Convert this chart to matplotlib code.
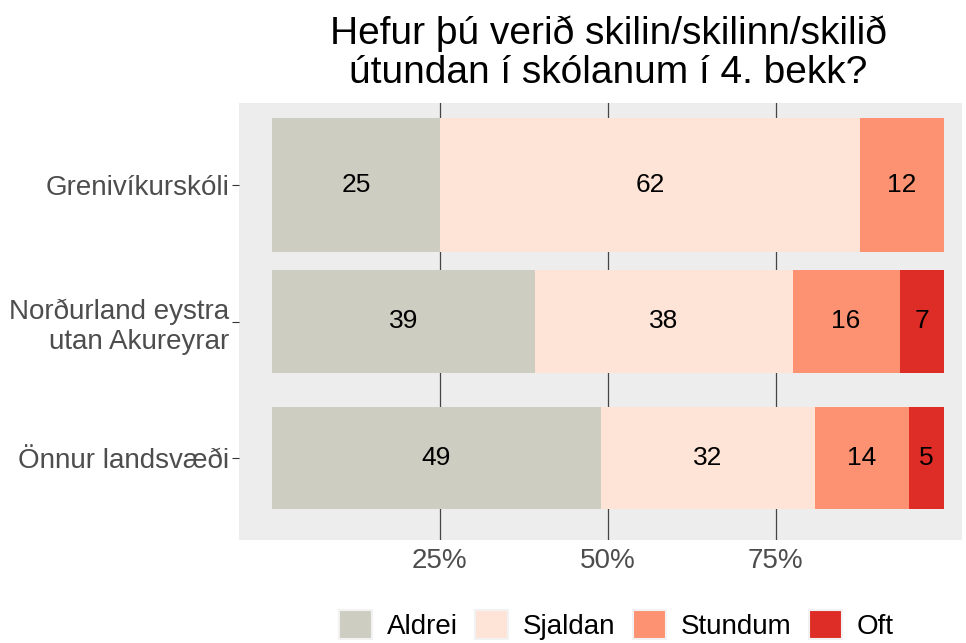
import matplotlib.pyplot as plt
from matplotlib.patches import Patch

plt.rcParams['font.family'] = ['Liberation Sans', 'DejaVu Sans']

# data (percent of pupils per answer)
regions = ["Grenivíkurskóli", "Norðurland eystra\nutan Akureyrar", "Önnur landsvæði"]
answers = ["Aldrei", "Sjaldan", "Stundum", "Oft"]
aldrei = [25.0, 39.1, 49.0]
sjaldan = [62.5, 38.4, 31.8]
stundum = [12.5, 15.9, 14.0]
oft = [0.0, 6.6, 5.2]
ticks = [25, 50, 75]

colors = ["#CDCDC1", "#FEE3D7", "#FC9272", "#DE2D26"]
bar_h = [0.985, 0.75, 0.75]

fig = plt.figure(figsize=(9.66, 6.43), dpi=100)
ax = fig.add_axes([239/966, 103/643, 723/966, 437/643])
ax.set_facecolor("#EDEDED")

ypos = [2, 1, 0]
left = [0, 0, 0]
for vals, col in zip([aldrei, sjaldan, stundum, oft], colors):
    ax.barh(ypos, vals, left=left, height=bar_h, color=col, zorder=3)
    for y, v, l in zip(ypos, vals, left):
        if v > 0:
            ax.text(l + v / 2, y, str(round(v)), ha="center", va="center",
                    fontsize=19, color="black", zorder=4)
    left = [a + b for a, b in zip(left, vals)]

for t in ticks:
    ax.axvline(t, color="#444444", lw=0.9, zorder=1)

ax.set_xlim(-4.9, 102.7)
ax.set_ylim(-0.6, 2.6)
ax.set_xticks(ticks)
ax.set_xticklabels([f"{t}%" for t in ticks])
ax.set_yticks(ypos)
ax.set_yticklabels(regions, multialignment="right")
ax.tick_params(axis="x", length=0, labelsize=20, labelcolor="#4D4D4D", pad=6)
ax.tick_params(axis="y", length=5, labelsize=20, labelcolor="#4D4D4D",
               color="#333333", width=0.8, pad=2)
for s in ax.spines.values():
    s.set_visible(False)

fig.text(0.630, 1 - 53/643, "Hefur þú verið skilin/skilinn/skilið\nútundan í skólanum í 4. bekk?",
         ha="center", va="center", fontsize=28, linespacing=1.12)

handles = [Patch(facecolor=c, edgecolor="#F2F2F2", lw=1.5) for c in colors]
fig.legend(handles, answers, loc="center", bbox_to_anchor=(0.638, 1 - 625/643),
           ncol=4, frameon=False, fontsize=20, handlelength=1.2, handleheight=1.2,
           handletextpad=0.54, columnspacing=0.61, borderpad=0)

fig.savefig("out.png", dpi=100)
